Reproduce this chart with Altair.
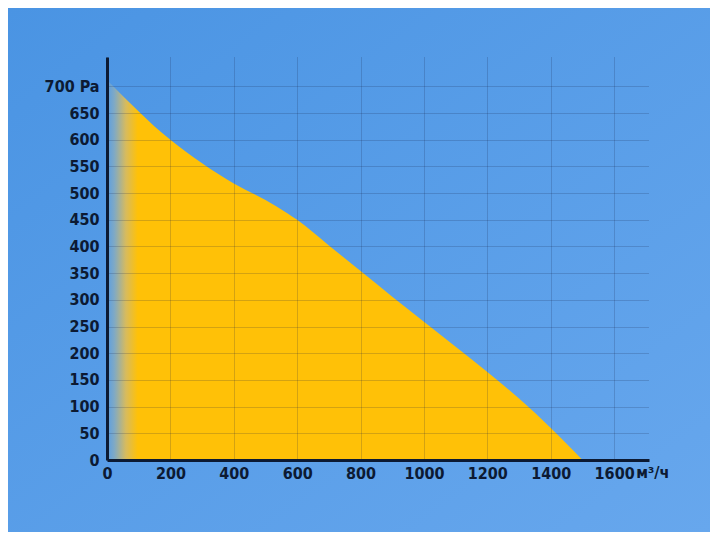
import altair as alt
import pandas as pd

# Data (airflow m³/h vs pressure Pa)
flow = [0, 50, 100, 150, 200, 300, 400, 500, 570, 600, 700, 800, 900, 1000, 1100, 1200, 1300, 1400, 1500]
pressure = [712, 682, 653, 625, 600, 556, 518, 487, 462, 450, 402, 354, 306, 259, 212, 165, 115, 60, 0]

x_ticks = [0, 200, 400, 600, 800, 1000, 1200, 1400, 1600]
y_ticks = [0, 50, 100, 150, 200, 250, 300, 350, 400, 450, 500, 550, 600, 650, 700]

df = pd.DataFrame({"flow": flow, "pressure": pressure})
unit_df = pd.DataFrame({"flow": [1600], "pressure": [0], "txt": ["м³/ч"]})

FONT = "DejaVu Sans Condensed, Roboto, sans-serif"
INK = "#0c1a33"

x_scale = alt.Scale(domain=[0, 1710], nice=False)
y_scale = alt.Scale(domain=[0, 755], nice=False)

x_axis = alt.Axis(values=x_ticks, title=None, labelPadding=5, zindex=1,
                  format="d", labelFlush=False, labelOverlap=False)
y_axis = alt.Axis(values=y_ticks, title=None, labelPadding=8, zindex=1,
                  format="d", labelFlush=False, labelOverlap=False,
                  labelExpr="datum.value == 700 ? '700 Pa' : datum.label")

bg = alt.Chart(pd.DataFrame({"a": [0]})).mark_rect(
    fill=alt.Gradient(
        gradient="linear",
        stops=[alt.GradientStop(color="#4a94e3", offset=0),
               alt.GradientStop(color="#67a7ed", offset=1)],
        x1=0, y1=0, x2=1, y2=1,
    )
).encode(
    x=alt.value(-99), x2=alt.value(603), y=alt.value(-49), y2=alt.value(475)
)

area = alt.Chart(df).mark_area(
    interpolate="monotone",
    fill=alt.Gradient(
        gradient="linear",
        stops=[alt.GradientStop(color="#5a9ee2", offset=0),
               alt.GradientStop(color="#7ea9c6", offset=0.015),
               alt.GradientStop(color="#d8bb5c", offset=0.04),
               alt.GradientStop(color="#ffc107", offset=0.065),
               alt.GradientStop(color="#ffc107", offset=1)],
        x1=0, y1=0, x2=1, y2=0,
    ),
).encode(
    x=alt.X("flow:Q", scale=x_scale, axis=x_axis),
    y=alt.Y("pressure:Q", scale=y_scale, axis=y_axis),
)

unit = alt.Chart(unit_df).mark_text(
    align="left", baseline="top", dx=22, dy=5,
    font=FONT, fontSize=16, fontWeight="bold", color=INK,
).encode(
    x=alt.X("flow:Q", scale=x_scale, axis=x_axis),
    y=alt.Y("pressure:Q", scale=y_scale, axis=y_axis),
    text="txt:N",
)

chart = alt.layer(bg, area, unit).properties(
    width=542, height=403,
    autosize=alt.AutoSizeParams(type="none"),
    padding={"left": 99, "top": 49, "right": 61, "bottom": 72},
    background="#5199e6",
).configure_view(
    stroke=None
).configure_axis(
    grid=True,
    gridColor="rgba(20,35,70,0.38)",
    gridDash=[1, 1],
    gridWidth=1,
    domain=True,
    domainColor=INK,
    domainWidth=3,
    ticks=False,
    tickSize=0,
    labelFont=FONT,
    labelFontSize=16,
    labelFontWeight="bold",
    labelColor=INK,
)

chart.save("out.html", embed_options={"renderer": "svg", "actions": False})
